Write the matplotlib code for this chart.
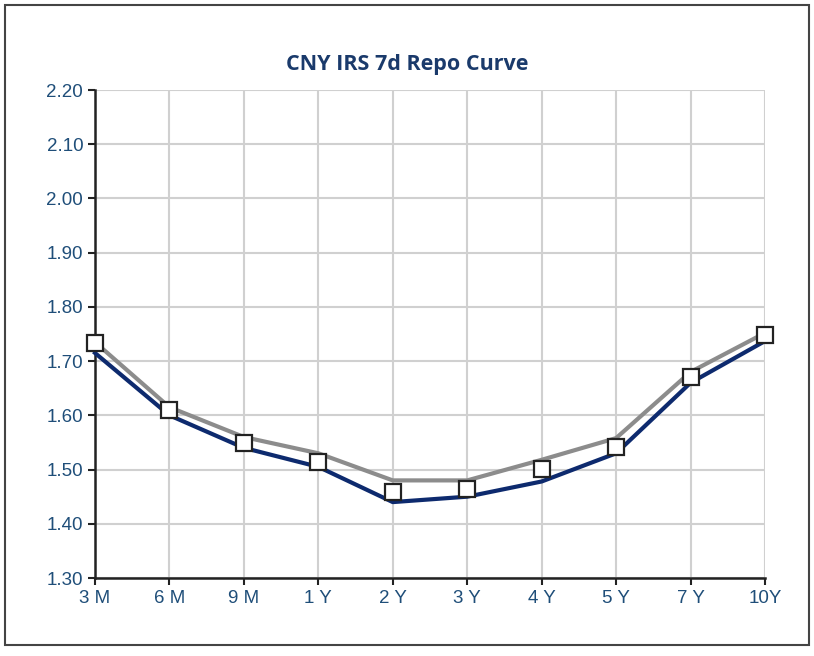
import matplotlib.pyplot as plt
from matplotlib.patches import Rectangle

# tenors and curves
tenors = ["3 M", "6 M", "9 M", "1 Y", "2 Y", "3 Y", "4 Y", "5 Y", "7 Y", "10Y"]
gray_curve = [1.735, 1.615, 1.560, 1.530, 1.480, 1.480, 1.518, 1.558, 1.680, 1.752]
navy_curve = [1.715, 1.600, 1.540, 1.505, 1.440, 1.450, 1.478, 1.530, 1.660, 1.737]
marker_pts = [1.734, 1.610, 1.549, 1.514, 1.459, 1.464, 1.501, 1.542, 1.671, 1.748]
y_ticks = [1.30, 1.40, 1.50, 1.60, 1.70, 1.80, 1.90, 2.00, 2.10, 2.20]

label_color = "#1f4e79"

fig = plt.figure(figsize=(8.14, 6.56), dpi=100)
ax = fig.add_axes([0.1167, 0.1189, 0.8231, 0.7439])

x = list(range(len(tenors)))
ax.plot(x, gray_curve, color="#8c8c8c", lw=3, zorder=3, clip_on=False)
ax.plot(x, navy_curve, color="#0d2a6e", lw=3, zorder=4, clip_on=False)
ax.plot(x, marker_pts, ls="none", marker="s", ms=11, mfc="white",
        mec="#222222", mew=1.6, zorder=5, clip_on=False)

ax.set_xlim(0, len(tenors) - 1)
ax.set_ylim(1.30, 2.20)
ax.set_xticks(x)
ax.set_xticklabels(tenors)
ax.set_yticks(y_ticks)
ax.set_yticklabels([f"{v:.2f}" for v in y_ticks])

ax.grid(True, color="#d0d0d0", lw=1.5)
ax.set_axisbelow(True)
for s in ["top", "right"]:
    ax.spines[s].set_visible(False)
for s in ["left", "bottom"]:
    ax.spines[s].set_linewidth(1.8)
    ax.spines[s].set_color("#222222")
ax.tick_params(axis="both", direction="out", length=5, width=1.5,
               colors="#222222", labelcolor=label_color, labelsize=13.5)
for t in ax.get_xticklabels() + ax.get_yticklabels():
    t.set_family("Liberation Sans")

fig.text(0.5, 0.902, "CNY IRS 7d Repo Curve", ha="center", va="center",
         fontsize=15.5, fontweight="bold", color="#1a3a6b", family="Open Sans")

fig.patches.append(Rectangle((0.006, 0.017), 0.988, 0.975, transform=fig.transFigure,
                             fill=False, edgecolor="#444444", lw=1.5))

fig.savefig("out.png", dpi=100)
